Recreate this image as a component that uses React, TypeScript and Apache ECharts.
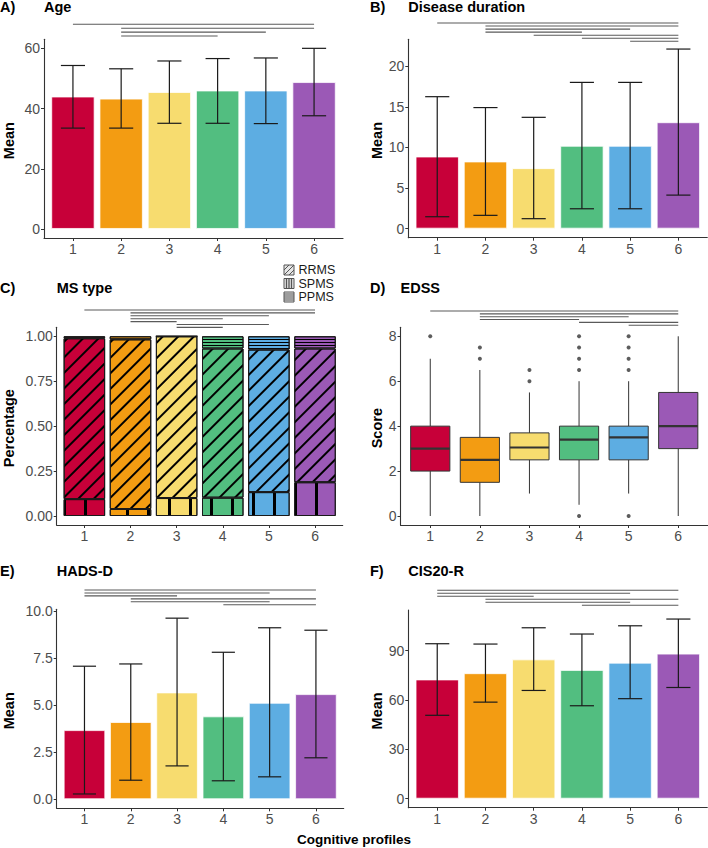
import React, { useEffect, useRef } from 'react';
import * as echarts from 'echarts';

const FONT = 'Liberation Sans, Arial, sans-serif';

// ---------- data ----------
const profiles = [1, 2, 3, 4, 5, 6];
const profileLabels = ['1', '2', '3', '4', '5', '6'];
const palette = ['#C70039', '#F39C12', '#F7DC6F', '#52BE80', '#5DADE2', '#9B59B6'];

// A) Age
const ageMean = [44.0, 43.3, 45.5, 46.0, 46.0, 48.8];
const ageLow = [33.5, 33.5, 35.1, 35.1, 35.0, 37.6];
const ageHigh = [54.3, 53.2, 55.8, 56.6, 56.8, 60.0];
const ageSig = [[1, 6], [2, 6], [2, 5], [2, 4]];
const ageTicks = [0, 20, 40, 60];

// B) Disease duration
const durMean = [8.88, 8.27, 7.45, 10.2, 10.2, 13.1];
const durLow = [1.47, 1.64, 1.23, 2.45, 2.45, 4.13];
const durHigh = [16.24, 14.9, 13.7, 18.0, 18.0, 22.1];
const durSig = [[1, 6], [2, 6], [2, 5], [2, 4], [3, 6], [4, 6], [5, 6]];
const durTicks = [0, 5, 10, 15, 20];

// C) MS type
const msTypes = ['RRMS', 'SPMS', 'PPMS'];
const msSPMS = [0.094, 0.039, 0.1, 0.102, 0.133, 0.188];
const msRRMS = [0.895, 0.944, 0.9, 0.83, 0.793, 0.744];
const msPPMS = [0.011, 0.017, 0.0, 0.068, 0.074, 0.068];
const msSig = [[1, 6], [2, 6], [2, 5], [2, 4], [2, 3], [3, 5], [3, 4]];
const msTicks = [0, 0.25, 0.5, 0.75, 1];

// D) EDSS
const edssMin = [0, 0, 1, 0.5, 1, 0];
const edssQ1 = [2, 1.5, 2.5, 2.5, 2.5, 3];
const edssMed = [3, 2.5, 3.05, 3.4, 3.5, 4];
const edssQ3 = [4, 3.5, 3.7, 4, 4, 5.5];
const edssMax = [7, 6.5, 5.5, 6, 6, 8];
const edssOutX = [1, 2, 2, 3, 3, 4, 4, 4, 4, 4, 5, 5, 5, 5, 5];
const edssOutY = [8, 7, 7.5, 6, 6.5, 0, 6.5, 7, 7.5, 8, 0, 6.5, 7, 7.5, 8];
const edssSig = [[1, 6], [2, 6], [2, 5], [2, 4], [4, 6], [5, 6]];
const edssTicks = [0, 2, 4, 6, 8];

// E) HADS-D
const hadsMean = [3.67, 4.1, 5.67, 4.4, 5.12, 5.58];
const hadsLow = [0.28, 1.01, 1.77, 0.98, 1.19, 2.2];
const hadsHigh = [7.06, 7.18, 9.61, 7.8, 9.1, 8.97];
const hadsSig = [[1, 6], [1, 5], [1, 3], [2, 6], [2, 5], [4, 6]];
const hadsTicks = [0, 2.5, 5, 7.5, 10];

// F) CIS20-R
const cisMean = [72.5, 76.3, 84.7, 78.3, 82.7, 88.2];
const cisLow = [50.7, 58.7, 65.8, 56.5, 60.8, 67.6];
const cisHigh = [94.2, 94.0, 103.9, 100.1, 105.1, 109.2];
const cisSig = [[1, 6], [1, 5], [1, 3], [2, 6], [2, 5], [4, 6]];
const cisTicks = [0, 30, 60, 90];

// ---------- layout ----------
type Panel = {
  tag: string; title: string; yName: string;
  grid: { left: number; top: number; width: number; height: number };
  yMin: number; yMax: number; ticks: number[]; fmt: (v: number) => string;
  sig: number[][]; sigStart: number; sigStep: number;
  tagX: number; titleY: number; yNameX: number;
};

const panels: Panel[] = [
  { tag: 'A)', title: 'Age', yName: 'Mean', grid: { left: 44, top: 39.3, width: 299, height: 198.7 },
    yMin: -3, yMax: 63, ticks: ageTicks, fmt: (v) => String(v), sig: ageSig, sigStart: -15, sigStep: 3.9,
    tagX: 0, titleY: 6.7, yNameX: 9 },
  { tag: 'B)', title: 'Disease duration', yName: 'Mean', grid: { left: 408.3, top: 39.3, width: 299, height: 198.4 },
    yMin: -1.11, yMax: 23.3, ticks: durTicks, fmt: (v) => String(v), sig: durSig, sigStart: -16.3, sigStep: 3.05,
    tagX: 370, titleY: 6.7, yNameX: 376.5 },
  { tag: 'C)', title: 'MS type', yName: 'Percentage', grid: { left: 56.7, top: 327.3, width: 286, height: 197.7 },
    yMin: -0.05, yMax: 1.05, ticks: msTicks, fmt: (v) => v.toFixed(2), sig: msSig, sigStart: -17.3, sigStep: 2.9,
    tagX: 0, titleY: 287.7, yNameX: 8.5 },
  { tag: 'D)', title: 'EDSS', yName: 'Score', grid: { left: 400.5, top: 327.3, width: 307.5, height: 197.7 },
    yMin: -0.4, yMax: 8.4, ticks: edssTicks, fmt: (v) => String(v), sig: edssSig, sigStart: -16.3, sigStep: 2.85,
    tagX: 370, titleY: 287.7, yNameX: 376.5 },
  { tag: 'E)', title: 'HADS-D', yName: 'Mean', grid: { left: 56.7, top: 609.3, width: 287, height: 199 },
    yMin: -0.48, yMax: 10.08, ticks: hadsTicks, fmt: (v) => v.toFixed(1), sig: hadsSig, sigStart: -19.3, sigStep: 2.95,
    tagX: 0, titleY: 570.5, yNameX: 8.5 },
  { tag: 'F)', title: 'CIS20-R', yName: 'Mean', grid: { left: 408.3, top: 610, width: 299, height: 197.7 },
    yMin: -5.46, yMax: 114.7, ticks: cisTicks, fmt: (v) => String(v), sig: cisSig, sigStart: -19.7, sigStep: 3.0,
    tagX: 370, titleY: 571, yNameX: 376.5 },
];

const AXIS_COLOR = '#333333';
const LABEL_COLOR = '#4d4d4d';
const SIG_COLOR = '#5a5a5a';

function barWidthOf(p: Panel) {
  return (0.9 * p.grid.width) / 6.2;
}

function errorSeries(idx: number, low: number[], high: number[]) {
  return {
    type: 'custom', xAxisIndex: idx, yAxisIndex: idx, z: 5,
    data: profiles.map((x, i) => [x, low[i], high[i]]),
    encode: { x: 0, y: [1, 2] },
    renderItem: (params: any, api: any) => {
      const x = api.value(0);
      const pLo = api.coord([x, api.value(1)]);
      const pHi = api.coord([x, api.value(2)]);
      const l = api.coord([x - 0.25, 0])[0];
      const r = api.coord([x + 0.25, 0])[0];
      const style = { stroke: '#1a1a1a', lineWidth: 1.2 };
      return {
        type: 'group',
        children: [
          { type: 'line', shape: { x1: pLo[0], y1: pLo[1], x2: pHi[0], y2: pHi[1] }, style },
          { type: 'line', shape: { x1: l, y1: pLo[1], x2: r, y2: pLo[1] }, style },
          { type: 'line', shape: { x1: l, y1: pHi[1], x2: r, y2: pHi[1] }, style },
        ],
      };
    },
  };
}

function sigSeries(idx: number, p: Panel) {
  return {
    type: 'custom', xAxisIndex: idx, yAxisIndex: idx, clip: false, z: 6,
    data: p.sig.map((s, k) => [s[0], s[1], k]),
    encode: { x: [0, 1] },
    renderItem: (params: any, api: any) => {
      const a = api.coord([api.value(0), 0])[0];
      const b = api.coord([api.value(1), 0])[0];
      const y = params.coordSys.y + p.sigStart + api.value(2) * p.sigStep;
      return { type: 'line', shape: { x1: a, y1: y, x2: b, y2: y }, style: { stroke: SIG_COLOR, lineWidth: 1.1 } };
    },
  };
}

function meanBarSeries(idx: number, p: Panel, mean: number[]) {
  return {
    type: 'bar', xAxisIndex: idx, yAxisIndex: idx, barWidth: barWidthOf(p),
    data: profiles.map((x, i) => ({
      value: [x, mean[i]],
      itemStyle: { color: palette[i], borderColor: 'rgba(255,255,255,0.75)', borderWidth: 1 },
    })),
  };
}

const decals: Record<string, any> = {
  RRMS: { symbol: 'rect', symbolSize: 1, color: '#000', dashArrayX: [1, 0], dashArrayY: [2, 8.6], rotation: -Math.PI / 4 },
  SPMS: { symbol: 'rect', symbolSize: 1, color: '#000', dashArrayX: [2.5, 17.5], dashArrayY: [4, 0], rotation: 0 },
  PPMS: { symbol: 'rect', symbolSize: 1, color: '#000', dashArrayX: [1, 0], dashArrayY: [1, 2], rotation: 0 },
};

// index of the hidden category grid used for stacking panel C
const MS_GRID = 6;

function msSeries(name: string, vals: number[]) {
  return {
    type: 'bar', name, stack: 'ms', xAxisIndex: MS_GRID, yAxisIndex: MS_GRID, barWidth: '90%',
    itemStyle: { borderColor: '#1a1a1a', borderWidth: 1, decal: decals[name] },
    data: vals.map((v, i) => ({
      value: v,
      itemStyle: { color: palette[i], borderColor: '#1a1a1a', borderWidth: 1, decal: decals[name] },
    })),
  };
}

function boxSeries(idx: number) {
  return {
    type: 'custom', xAxisIndex: idx, yAxisIndex: idx, z: 4,
    data: profiles.map((x, i) => [x, edssMin[i], edssQ1[i], edssMed[i], edssQ3[i], edssMax[i]]),
    encode: { x: 0, y: [1, 5] },
    renderItem: (params: any, api: any) => {
      const x = api.value(0);
      const half = 0.395;
      const cx = api.coord([x, 0])[0];
      const l = api.coord([x - half, 0])[0];
      const r = api.coord([x + half, 0])[0];
      const yMin = api.coord([x, api.value(1)])[1];
      const yQ1 = api.coord([x, api.value(2)])[1];
      const yMed = api.coord([x, api.value(3)])[1];
      const yQ3 = api.coord([x, api.value(4)])[1];
      const yMax = api.coord([x, api.value(5)])[1];
      const st = { stroke: AXIS_COLOR, lineWidth: 1 };
      return {
        type: 'group',
        children: [
          { type: 'line', shape: { x1: cx, y1: yMax, x2: cx, y2: yQ3 }, style: st },
          { type: 'line', shape: { x1: cx, y1: yQ1, x2: cx, y2: yMin }, style: st },
          { type: 'rect', shape: { x: l, y: yQ3, width: r - l, height: yQ1 - yQ3 },
            style: { fill: palette[params.dataIndex], stroke: AXIS_COLOR, lineWidth: 1 } },
          { type: 'line', shape: { x1: l, y1: yMed, x2: r, y2: yMed }, style: { stroke: AXIS_COLOR, lineWidth: 2.2 } },
        ],
      };
    },
  };
}

function buildOption() {
  const grid: any[] = panels.map((p) => ({ ...p.grid, containLabel: false, outerBoundsMode: 'none' }));
  // hidden category grid aligned with panel C's value axis (ggplot's 0.6 expansion vs. 0.5 band)
  const pc = panels[2];
  const band = pc.grid.width / 6.2;
  grid.push({ left: pc.grid.left + 0.1 * band, top: pc.grid.top, width: 6 * band, height: pc.grid.height,
    containLabel: false, outerBoundsMode: 'none' });

  const xAxis: any[] = panels.map((p, i) => ({
    type: 'value', gridIndex: i, min: 0.4, max: 6.6,
    axisLine: { show: true, onZero: false, lineStyle: { color: AXIS_COLOR, width: 1.1 } },
    axisTick: { show: true, customValues: profiles, length: 3, lineStyle: { color: AXIS_COLOR } },
    axisLabel: { show: true, customValues: profiles, color: LABEL_COLOR, fontSize: 14, fontFamily: FONT, margin: 4 },
    splitLine: { show: false },
  }));
  xAxis.push({ type: 'category', gridIndex: MS_GRID, data: profileLabels, boundaryGap: true,
    axisLine: { show: false }, axisTick: { show: false }, axisLabel: { show: false }, splitLine: { show: false } });

  const yAxis: any[] = panels.map((p, i) => ({
    type: 'value', gridIndex: i, min: p.yMin, max: p.yMax,
    axisLine: { show: true, onZero: false, lineStyle: { color: AXIS_COLOR, width: 1.1 } },
    axisTick: { show: true, customValues: p.ticks, length: 3, lineStyle: { color: AXIS_COLOR } },
    axisLabel: { show: true, customValues: p.ticks, color: LABEL_COLOR, fontSize: 14, fontFamily: FONT, margin: 4,
      formatter: (v: number) => p.fmt(v) },
    splitLine: { show: false },
  }));
  yAxis.push({ type: 'value', gridIndex: MS_GRID, min: pc.yMin, max: pc.yMax,
    axisLine: { show: false }, axisTick: { show: false }, axisLabel: { show: false }, splitLine: { show: false } });

  const series: any[] = [
    meanBarSeries(0, panels[0], ageMean), errorSeries(0, ageLow, ageHigh), sigSeries(0, panels[0]),
    meanBarSeries(1, panels[1], durMean), errorSeries(1, durLow, durHigh), sigSeries(1, panels[1]),
    msSeries('SPMS', msSPMS), msSeries('RRMS', msRRMS), msSeries('PPMS', msPPMS),
    sigSeries(2, panels[2]),
    boxSeries(3),
    { type: 'scatter', xAxisIndex: 3, yAxisIndex: 3, z: 5, symbolSize: 4,
      itemStyle: { color: '#333' }, data: edssOutX.map((x, i) => [x, edssOutY[i]]) },
    sigSeries(3, panels[3]),
    meanBarSeries(4, panels[4], hadsMean), errorSeries(4, hadsLow, hadsHigh), sigSeries(4, panels[4]),
    meanBarSeries(5, panels[5], cisMean), errorSeries(5, cisLow, cisHigh), sigSeries(5, panels[5]),
  ];

  const texts: any[] = [];
  panels.forEach((p) => {
    const bold = { fontFamily: FONT, fontWeight: 'bold', fontSize: 14.5, fill: '#000' };
    texts.push({ type: 'text', x: p.tagX, y: p.titleY, style: { ...bold, text: p.tag, align: 'left', verticalAlign: 'middle' } });
    texts.push({ type: 'text', x: p.grid.left, y: p.titleY, style: { ...bold, text: p.title, align: 'left', verticalAlign: 'middle' } });
    texts.push({ type: 'text', x: p.yNameX, y: p.grid.top + p.grid.height / 2 + 2, rotation: Math.PI / 2,
      style: { ...bold, text: p.yName, align: 'center', verticalAlign: 'middle' } });
  });
  texts.push({ type: 'text', x: 354, y: 839, style: { fontFamily: FONT, fontWeight: 'bold', fontSize: 13.5, fill: '#000',
    text: 'Cognitive profiles', align: 'center', verticalAlign: 'middle' } });

  // legend for panel C
  const lx = 284, s = 10;
  const rowsY = [270, 283.5, 297];
  const ls = { stroke: '#555', lineWidth: 1 };
  msTypes.forEach((name, k) => {
    const y0 = rowsY[k] - s / 2;
    const children: any[] = [
      { type: 'rect', shape: { x: lx, y: y0, width: s, height: s }, style: { fill: '#e6e6e6', stroke: '#555', lineWidth: 1 } },
    ];
    if (name === 'RRMS') {
      children.push({ type: 'line', shape: { x1: lx, y1: y0 + s / 2, x2: lx + s / 2, y2: y0 }, style: ls });
      children.push({ type: 'line', shape: { x1: lx, y1: y0 + s, x2: lx + s, y2: y0 }, style: ls });
      children.push({ type: 'line', shape: { x1: lx + s / 2, y1: y0 + s, x2: lx + s, y2: y0 + s / 2 }, style: ls });
    } else if (name === 'SPMS') {
      [0.25, 0.5, 0.75].forEach((f) => children.push({ type: 'line', shape: { x1: lx + s * f, y1: y0, x2: lx + s * f, y2: y0 + s }, style: { stroke: '#555', lineWidth: 1.3 } }));
    } else {
      [0.2, 0.4, 0.6, 0.8].forEach((f) => children.push({ type: 'line', shape: { x1: lx, y1: y0 + s * f, x2: lx + s, y2: y0 + s * f }, style: ls }));
    }
    children.push({ type: 'text', x: 298.5, y: rowsY[k], style: { text: name, fontFamily: FONT, fontSize: 12.5, lineHeight: 12.5,
      fill: '#1a1a1a', align: 'left', verticalAlign: 'middle' } });
    texts.push({ type: 'group', children });
  });

  return {
    animation: false,
    backgroundColor: '#ffffff',
    grid, xAxis, yAxis, series,
    graphic: { elements: texts },
  };
}

export default function App() {
  const ref = useRef<HTMLDivElement>(null);
  useEffect(() => {
    if (!ref.current) return;
    const chart = echarts.init(ref.current, undefined, { renderer: 'svg' });
    chart.setOption(buildOption() as any);
    return () => chart.dispose();
  }, []);
  return (
    <div
      ref={ref}
      style={{ position: 'absolute', left: 0, top: 0, width: 708, height: 848, background: '#fff' }}
    />
  );
}
